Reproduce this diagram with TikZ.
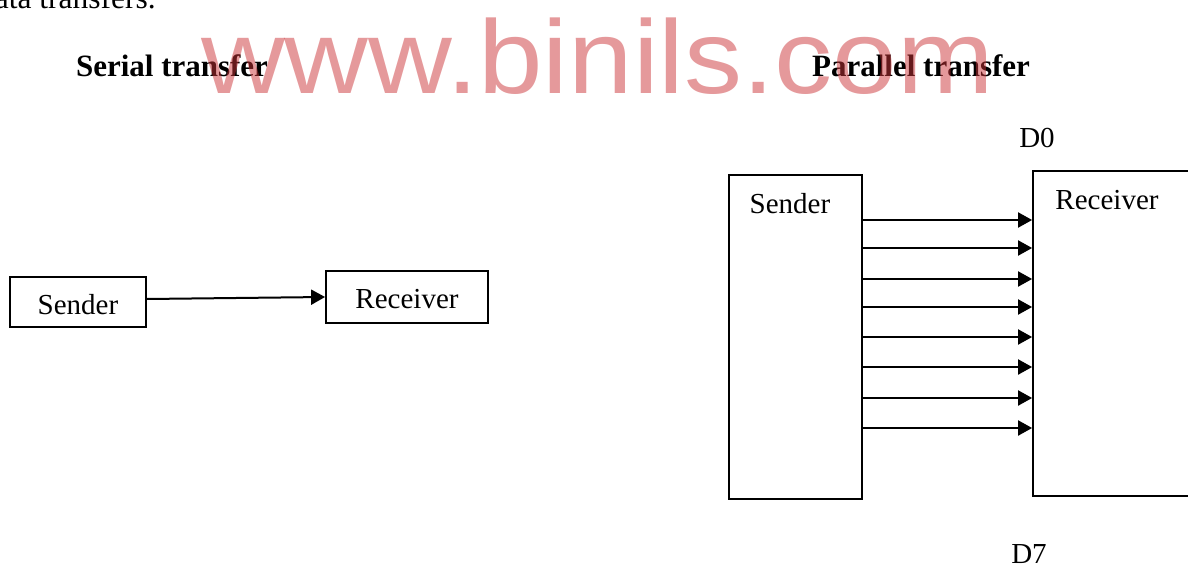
\documentclass[tikz,border=0pt]{standalone}
\usepackage{fontspec}
\setmainfont{Liberation Serif}
\newfontfamily\wmfont{Liberation Sans}
\usetikzlibrary{arrows.meta}
\definecolor{wmred}{RGB}{203,52,56}
\tikzset{
  box/.style={draw=black, line width=1.8pt, fill=none, inner sep=0pt},
  txt/.style={inner sep=0pt, font=\fontsize{29}{34}\selectfont},
  ttl/.style={inner sep=0pt, font=\fontsize{31}{36}\selectfont\bfseries, anchor=base},
  arr/.style={line width=2pt, -{Triangle[length=14pt,width=15pt]}},
}
\begin{document}
\begin{tikzpicture}[x=1pt,y=-1pt]
\useasboundingbox (0,0) rectangle (1188,567);
\clip (0,0) rectangle (1188,567);
% top cut text
\node[inner sep=0pt, font=\fontsize{31.5}{36}\selectfont, anchor=base east] (intro) at (156,9) {data transfers.};
% titles
\node[ttl] (t1) at (172,77) {Serial transfer};
\node[ttl] (t2) at (921,77) {Parallel transfer};
% serial
\node[box, minimum width=136pt, minimum height=50pt] (s1) at (78,302) {};
\node[txt] (s1t) at (78,305) {Sender};
\node[box, minimum width=162pt, minimum height=52pt] (r1) at (407,297) {};
\node[txt] (r1t) at (407,299) {Receiver};
\draw[arr] ([yshift=3pt]s1.east) -- (r1.west);
% parallel
\node[box, minimum width=133pt, minimum height=324pt] (ps) at (795.5,337) {};
\node[txt] (pst) at (790,204) {Sender};
\node[box, minimum width=217pt, minimum height=325pt] (pr) at (1141.5,333.5) {};
\node[txt] (prt) at (1107,200) {Receiver};
\foreach \yy in {220,248,279,307,337,367,398,428}{
  \draw[arr] (ps.east |- 0,\yy) -- (pr.west |- 0,\yy);
}
\node[txt, anchor=base] (d0) at (1037,147) {D0};
\node[txt, anchor=base] (d7) at (1029,563) {D7};
% watermark
\node[inner sep=0pt, anchor=base west, transform shape, yscale=0.9, text=wmred, opacity=0.5, font=\fontsize{116}{120}\wmfont] (wm) at (201,94) {www.binils.com};
\end{tikzpicture}
\end{document}
